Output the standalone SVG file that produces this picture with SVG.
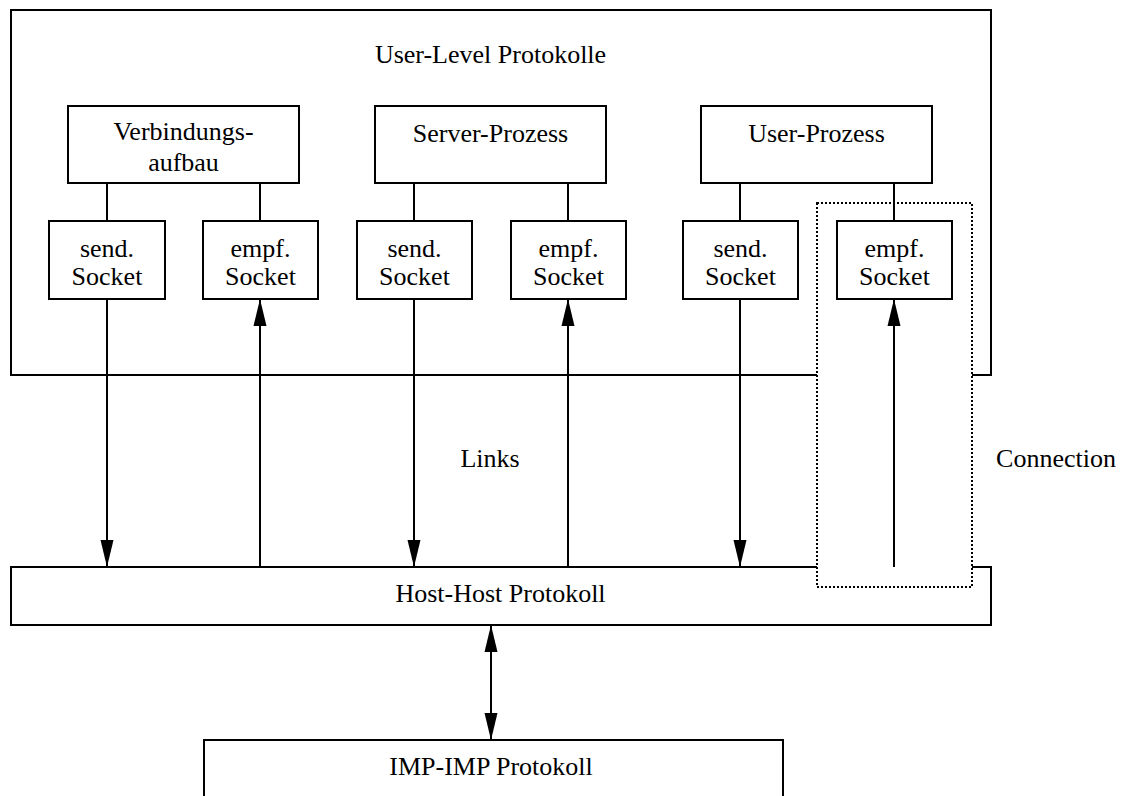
<svg xmlns="http://www.w3.org/2000/svg" width="1129" height="796" viewBox="0 0 1129 796">
<style>
.box{fill:#fff;stroke:#000;stroke-width:2}
.frame{fill:none;stroke:#000;stroke-width:2}
.ln{fill:none;stroke:#000;stroke-width:2}
.dot{fill:#fff;stroke:#000;stroke-width:2;stroke-dasharray:2 2}
text{font-family:"Liberation Serif","Times New Roman",serif;font-size:26px;fill:#000;text-anchor:middle}
</style>
<defs>
<marker id="ah" markerUnits="userSpaceOnUse" markerWidth="28" markerHeight="14" refX="27" refY="7" orient="auto-start-reverse">
<path d="M0,0.5 L27,7 L0,13.5 Z" fill="#000"/>
</marker>
</defs>
<g id="user-level">
<rect class="frame" x="11" y="10" width="980" height="365"/>
<text x="490.5" y="63">User-Level Protokolle</text>
</g>
<g id="host-host">
<rect class="box" x="11" y="567" width="980" height="58"/>
<text x="500.5" y="602">Host-Host Protokoll</text>
</g>
<g id="imp-imp">
<path class="box" d="M204,800 V740 H783 V800"/>
<text x="491" y="775">IMP-IMP Protokoll</text>
</g>
<g id="connection">
<rect class="dot" x="817" y="203" width="155" height="384"/>
<text x="1056" y="467">Connection</text>
</g>
<g id="links-label">
<text x="490" y="467">Links</text>
</g>
<g id="connectors">
<path class="ln" d="M107,183V221 M260,183V221 M414,183V221 M568,183V221 M740,183V221 M894,183V221"/>
<path class="ln" d="M107,299V567" marker-end="url(#ah)"/>
<path class="ln" d="M414,299V567" marker-end="url(#ah)"/>
<path class="ln" d="M740,299V567" marker-end="url(#ah)"/>
<path class="ln" d="M260,567V299" marker-end="url(#ah)"/>
<path class="ln" d="M568,567V299" marker-end="url(#ah)"/>
<path class="ln" d="M894,567V299" marker-end="url(#ah)"/>
<path class="ln" d="M491,625V740" marker-start="url(#ah)" marker-end="url(#ah)"/>
</g>
<g id="verbindungsaufbau">
<rect class="box" x="68" y="106" width="231" height="77"/>
<text x="183.5" y="140">Verbindungs-</text>
<text x="183.5" y="171">aufbau</text>
</g>
<g id="server-prozess">
<rect class="box" x="375" y="106" width="231" height="77"/>
<text x="490.5" y="142">Server-Prozess</text>
</g>
<g id="user-prozess">
<rect class="box" x="701" y="106" width="231" height="77"/>
<text x="816.5" y="142">User-Prozess</text>
</g>
<g id="send-socket-1">
<rect class="box" x="49" y="221" width="116" height="78"/>
<text x="107" y="257">send.</text><text x="107" y="285">Socket</text>
</g>
<g id="empf-socket-1">
<rect class="box" x="203" y="221" width="115" height="78"/>
<text x="260.5" y="257">empf.</text><text x="260.5" y="285">Socket</text>
</g>
<g id="send-socket-2">
<rect class="box" x="357" y="221" width="115" height="78"/>
<text x="414.5" y="257">send.</text><text x="414.5" y="285">Socket</text>
</g>
<g id="empf-socket-2">
<rect class="box" x="511" y="221" width="115" height="78"/>
<text x="568.5" y="257">empf.</text><text x="568.5" y="285">Socket</text>
</g>
<g id="send-socket-3">
<rect class="box" x="683" y="221" width="115" height="78"/>
<text x="740.5" y="257">send.</text><text x="740.5" y="285">Socket</text>
</g>
<g id="empf-socket-3">
<rect class="box" x="837" y="221" width="115" height="78"/>
<text x="894.5" y="257">empf.</text><text x="894.5" y="285">Socket</text>
</g>
</svg>
